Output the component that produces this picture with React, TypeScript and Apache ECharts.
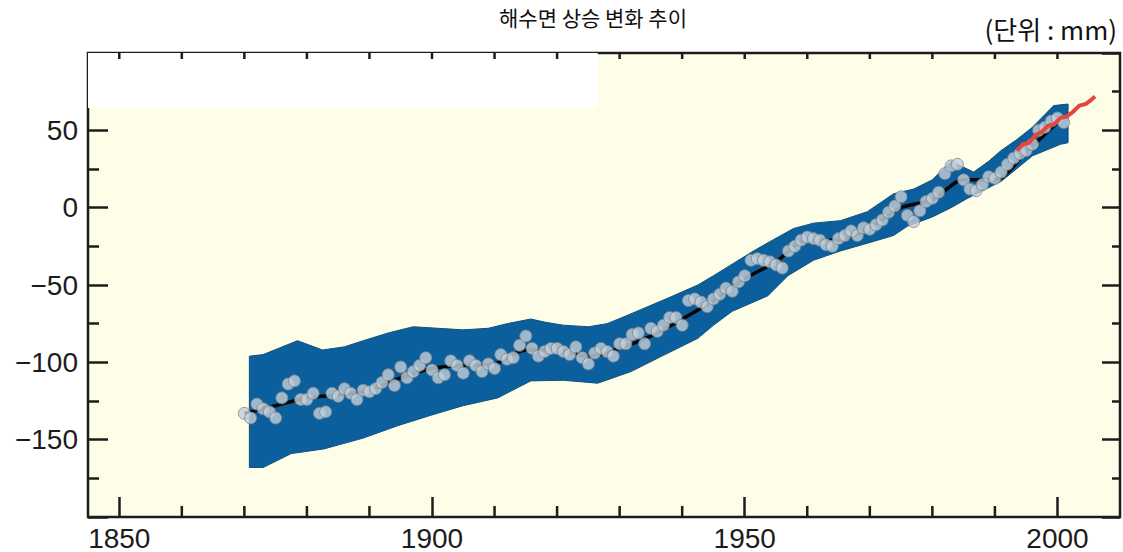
import React, { useEffect, useRef } from 'react';
import * as echarts from 'echarts';

// ---- data ----
const TITLE = '해수면 상승 변화 추이';
const UNIT = '(단위 : mm)';

const firstYear = 1870;
// annual tide-gauge sea level (mm), 1870 .. 2001
const seaLevel = [
  -133, -136, -127, -130, -132, -136, -123, -114, -112, -124,
  -124, -120, -133, -132, -120, -122, -117, -120, -124, -118,
  -119, -117, -113, -108, -115, -103, -110, -106, -102, -97,
  -105, -110, -108, -99, -102, -107, -99, -102, -106, -101,
  -104, -95, -98, -97, -89, -83, -91, -96, -93, -91,
  -91, -93, -95, -90, -97, -101, -94, -91, -93, -96,
  -88, -88, -82, -81, -88, -78, -80, -76, -71, -71,
  -76, -60, -59, -61, -64, -59, -56, -52, -54, -48,
  -44, -34, -33, -34, -35, -37, -39, -28, -25, -21,
  -19, -20, -21, -24, -25, -20, -18, -15, -18, -13,
  -14, -11, -8, -3, 1, 7, -5, -9, -2, 4,
  6, 10, 22, 27, 28, 18, 12, 11, 15, 20,
  19, 23, 28, 32, 35, 37, 41, 50, 52, 56,
  58, 55,
];

// smoothed mean (black line)
const meanYears = [1870, 1875, 1880, 1885, 1890, 1895, 1900, 1905, 1910, 1915, 1920, 1925, 1930, 1935, 1940, 1945, 1950, 1955, 1960, 1965, 1970, 1975, 1980, 1985, 1990, 1995, 2000];
const meanVals = [-133, -128, -123, -121, -118, -110, -104, -102, -101, -92, -92, -96, -91, -83, -72, -60, -46, -35, -21, -21, -13, 0, 5, 18, 18, 36, 55];

// uncertainty band (upper / lower edges)
const bandUpper: [number, number][] = [
  [1870.8, -96], [1873, -95], [1878.5, -86], [1882.5, -92], [1886, -90], [1889, -86],
  [1893, -81], [1897, -77], [1901, -78], [1905, -79], [1909, -78], [1912, -75],
  [1915.8, -72], [1918, -74], [1921, -76], [1925, -77], [1928, -75], [1931, -70],
  [1934.5, -64], [1938, -58], [1942.5, -50], [1945, -44], [1947.8, -37], [1951.4, -28],
  [1954, -22], [1957.8, -13.5], [1961, -10], [1965.3, -8.4], [1969.6, -2.6], [1973.8, 9],
  [1977, 12], [1980, 18], [1983, 30], [1986.6, 23], [1989, 30], [1991, 37],
  [1993.5, 44], [1996, 52], [1999.4, 66], [2001.7, 67],
];
const bandLower: [number, number][] = [
  [1870.8, -168], [1873, -168], [1877.5, -159], [1882.7, -156], [1889, -149], [1894.5, -141],
  [1900, -134], [1905, -128], [1910.5, -123], [1915.8, -112], [1921, -111.6], [1926.5, -113.5],
  [1931.8, -106], [1937, -95.5], [1942.5, -84.5], [1945, -76], [1948, -67], [1953.7, -57],
  [1956.9, -44], [1961, -34], [1965.3, -28], [1969.6, -23], [1973.8, -18], [1976, -12],
  [1980, -6], [1983, 0], [1985.6, 6], [1991, 17], [1996, 33.5], [2000.5, 41], [2001.7, 42],
];

// satellite altimetry (red line)
const satYears = [1993.5, 1994.5, 1995.5, 1996.5, 1997.5, 1998.5, 1999.5, 2000.5, 2001.5, 2002.5, 2003.5, 2004.5, 2005.5, 2006];
const satVals = [37, 41, 42, 47, 49, 53, 54, 58, 59, 62, 66, 67, 70, 72];

// erased legend patch (white)
const whitePatch: [number, number][] = [[1845, 100], [1926.5, 64.5]];

// axis ticks
const xMajorTicks = [1850, 1900, 1950, 2000];
const xMinorTicks = [1860, 1870, 1880, 1890, 1910, 1920, 1930, 1940, 1960, 1970, 1980, 1990];
const xTopTicks = [1850, 1860, 1870, 1880, 1890, 1900, 1910, 1920, 1930, 1940, 1950, 1960, 1970, 1980, 1990, 2000];

const X_MIN = 1845;
const X_MAX = 2010;
const Y_MIN = -200;
const Y_MAX = 100;

const INK = '#1c1c1c';
const FONT = '"Liberation Sans", Arial, Helvetica, sans-serif';
const KFONT = '"Noto Sans CJK KR", "Noto Sans", sans-serif';

export default function App() {
  const ref = useRef<HTMLDivElement>(null);

  useEffect(() => {
    document.body.style.margin = '0';
    if (!ref.current) return;
    const chart = echarts.init(ref.current, undefined, { renderer: 'svg' });

    const points = seaLevel.map((v, i) => [firstYear + i, v]);
    const mean = meanYears.map((y, i) => [y, meanVals[i]]);
    const sat = satYears.map((y, i) => [y, satVals[i]]);

    const textGraphics = [
      {
        id: 'title',
        type: 'text',
        x: 593,
        y: 6,
        z: 20,
        style: {
          text: TITLE,
          align: 'center',
          verticalAlign: 'top',
          fontSize: 21,
          fontFamily: KFONT,
          fill: '#111',
        },
      },
      {
        id: 'unit',
        type: 'text',
        x: 1117,
        y: 28,
        z: 20,
        style: {
          text: UNIT,
          align: 'right',
          verticalAlign: 'middle',
          fontSize: 26,
          fontFamily: KFONT,
          fill: '#111',
        },
      },
    ];

    const option: any = {
      animation: false,
      backgroundColor: '#ffffff',
      grid: {
        left: 88,
        right: 3,
        top: 53,
        bottom: 35,
        show: true,
        backgroundColor: '#FEFDE8',
        borderColor: INK,
        borderWidth: 2.5,
      },
      xAxis: {
        type: 'value',
        position: 'bottom',
        min: X_MIN,
        max: X_MAX,
        axisLine: { show: false, onZero: false },
        splitLine: { show: false },
        axisTick: {
          show: true,
          inside: true,
          length: 20,
          customValues: xMajorTicks,
          lineStyle: { color: INK, width: 2.5 },
        },
        axisLabel: {
          customValues: xMajorTicks,
          fontSize: 28,
          fontFamily: FONT,
          color: INK,
          margin: 7,
          formatter: (v: number) => String(v),
        },
      },
      yAxis: [
        {
          type: 'value',
          position: 'left',
          min: Y_MIN,
          max: Y_MAX,
          interval: 50,
          axisLine: { show: false, onZero: false },
          splitLine: { show: false },
          axisTick: { show: true, inside: true, length: 20, lineStyle: { color: INK, width: 2.5 } },
          minorTick: { show: true, splitNumber: 2, length: 11, lineStyle: { color: INK, width: 2.5 } },
          axisLabel: {
            showMinLabel: false,
            showMaxLabel: false,
            fontSize: 28,
            fontFamily: FONT,
            color: INK,
            margin: 10,
            formatter: (v: number) => (v < 0 ? '\u2212' + Math.abs(v) : String(v)),
          },
        },
        {
          type: 'value',
          position: 'right',
          min: Y_MIN,
          max: Y_MAX,
          interval: 50,
          axisLine: { show: false, onZero: false },
          splitLine: { show: false },
          axisTick: { show: true, inside: true, length: 18, lineStyle: { color: INK, width: 2.5 } },
          minorTick: { show: true, splitNumber: 2, length: 8, lineStyle: { color: INK, width: 2.5 } },
          axisLabel: { show: false },
        },
      ],
      series: [
        {
          type: 'custom',
          xAxisIndex: 0,
          yAxisIndex: 0,
          z: 1,
          silent: true,
          data: [[bandUpper[0][0], bandUpper[0][1]]],
          renderItem: (params: any, api: any) => {
            const pts = [
              ...bandUpper.map((p) => api.coord(p)),
              ...bandLower.slice().reverse().map((p) => api.coord(p)),
            ];
            return {
              type: 'polygon',
              shape: { points: pts },
              style: { fill: '#0B5F9C', stroke: '#0F527F', lineWidth: 1, lineJoin: 'round' },
            };
          },
          markArea: {
            silent: true,
            itemStyle: { color: '#FFFFFF' },
            data: [[{ coord: whitePatch[0] }, { coord: whitePatch[1] }]],
          },
        },
        {
          type: 'line',
          xAxisIndex: 0,
          yAxisIndex: 0,
          z: 2,
          data: mean,
          smooth: 0.3,
          showSymbol: false,
          lineStyle: { color: '#050505', width: 3.5 },
        },
        {
          type: 'scatter',
          xAxisIndex: 0,
          yAxisIndex: 0,
          z: 3,
          data: points,
          symbol: 'circle',
          symbolSize: 12,
          itemStyle: { color: '#C3CFD9', borderColor: '#7C858C', borderWidth: 1 },
        },
        {
          type: 'line',
          xAxisIndex: 0,
          yAxisIndex: 0,
          z: 4,
          data: sat,
          showSymbol: false,
          lineStyle: { color: '#E4483A', width: 4 },
        },
      ],
      graphic: textGraphics,
    };

    chart.setOption(option);

    // minor / top x ticks placed through the chart's own x scale
    const finder = { xAxisIndex: 0, yAxisIndex: 0 };
    const tickLines: any[] = [];
    xMinorTicks.forEach((yr, i) => {
      const p = chart.convertToPixel(finder, [yr, Y_MIN]) as number[];
      tickLines.push({
        id: 'mt' + i,
        type: 'line',
        z: 20,
        silent: true,
        shape: { x1: p[0], y1: p[1], x2: p[0], y2: p[1] - 11 },
        style: { stroke: INK, lineWidth: 2.5 },
      });
    });
    xTopTicks.forEach((yr, i) => {
      const p = chart.convertToPixel(finder, [yr, Y_MAX]) as number[];
      tickLines.push({
        id: 'tt' + i,
        type: 'line',
        z: 20,
        silent: true,
        shape: { x1: p[0], y1: p[1], x2: p[0], y2: p[1] + 6 },
        style: { stroke: INK, lineWidth: 2.5 },
      });
    });
    chart.setOption({ graphic: [...textGraphics, ...tickLines] });

    return () => chart.dispose();
  }, []);

  return <div ref={ref} style={{ width: 1123, height: 552 }} />;
}
